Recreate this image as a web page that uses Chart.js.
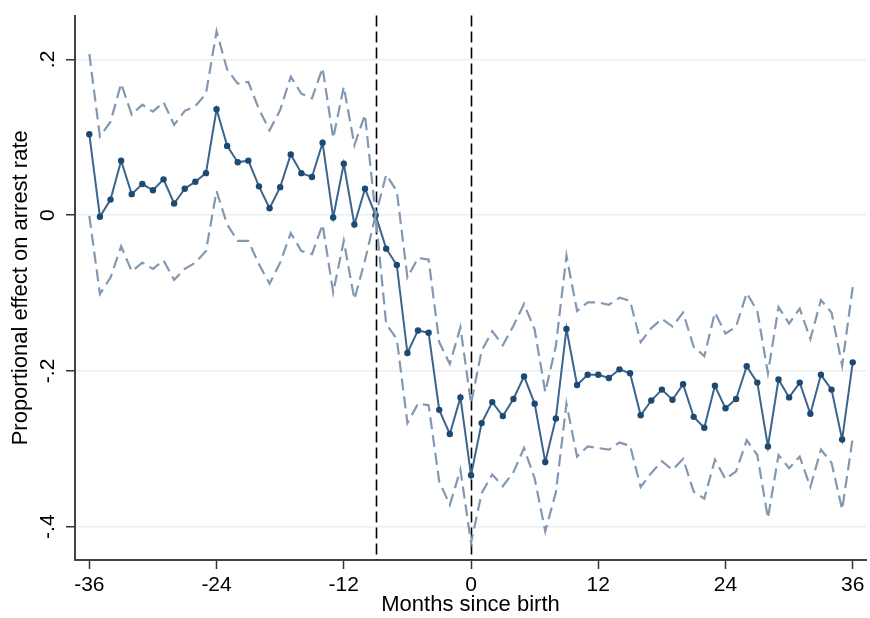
<!DOCTYPE html>
<html lang="en">
<head>
  <meta charset="UTF-8">
  <title>Proportional effect on arrest rate</title>
  <script src="https://cdn.jsdelivr.net/npm/chart.js"></script>
  <style>
    html, body { margin: 0; padding: 0; background: #fff; }
    #wrap { width: 870px; height: 618px; }
  </style>
</head>
<body>
<div id="wrap"><canvas id="c" width="870" height="618"></canvas></div>
<script>
const months = [-36,-35,-34,-33,-32,-31,-30,-29,-28,-27,-26,-25,-24,-23,-22,-21,-20,-19,-18,-17,-16,-15,-14,-13,
  -12,-11,-10,-9,-8,-7,-6,-5,-4,-3,-2,-1,0,1,2,3,4,5,6,7,8,9,10,11,
  12,13,14,15,16,17,18,19,20,21,22,23,24,25,26,27,28,29,30,31,32,33,34,35,36];

const estimate = [0.104,-0.002,0.020,0.070,0.027,0.040,0.032,0.046,0.015,0.034,0.043,0.054,
  0.136,0.089,0.068,0.070,0.037,0.009,0.036,0.078,0.054,0.049,0.093,-0.003,
  0.066,-0.012,0.034,0,-0.043,-0.064,-0.177,-0.148,-0.151,-0.250,-0.281,-0.234,
  -0.334,-0.267,-0.240,-0.258,-0.236,-0.207,-0.242,-0.317,-0.261,-0.146,-0.218,-0.205,
  -0.205,-0.209,-0.198,-0.203,-0.257,-0.238,-0.224,-0.237,-0.217,-0.259,-0.273,-0.219,
  -0.248,-0.236,-0.194,-0.215,-0.297,-0.211,-0.234,-0.215,-0.255,-0.205,-0.224,-0.288,-0.189];

const upper = [0.207,0.101,0.120,0.169,0.129,0.142,0.133,0.145,0.116,0.134,0.140,0.156,
  0.236,0.187,0.169,0.171,0.136,0.109,0.135,0.178,0.156,0.150,0.189,0.099,
  0.165,0.090,0.129,0,0.052,0.031,-0.080,-0.055,-0.057,-0.163,-0.191,-0.144,
  -0.242,-0.174,-0.149,-0.167,-0.142,-0.114,-0.147,-0.227,-0.168,-0.052,-0.123,-0.112,
  -0.112,-0.115,-0.106,-0.110,-0.163,-0.145,-0.133,-0.143,-0.125,-0.169,-0.181,-0.125,
  -0.152,-0.143,-0.100,-0.123,-0.203,-0.118,-0.139,-0.120,-0.159,-0.109,-0.125,-0.193,-0.092];

const lower = [-0.001,-0.101,-0.080,-0.040,-0.072,-0.061,-0.069,-0.058,-0.083,-0.069,-0.061,-0.046,
  0.031,-0.012,-0.033,-0.033,-0.063,-0.088,-0.061,-0.023,-0.046,-0.050,-0.012,-0.099,
  -0.033,-0.108,-0.058,0,-0.140,-0.159,-0.267,-0.242,-0.244,-0.342,-0.372,-0.327,
  -0.421,-0.357,-0.333,-0.348,-0.330,-0.299,-0.338,-0.406,-0.356,-0.242,-0.310,-0.297,
  -0.299,-0.301,-0.292,-0.296,-0.349,-0.331,-0.316,-0.327,-0.313,-0.355,-0.364,-0.314,
  -0.339,-0.329,-0.289,-0.308,-0.389,-0.308,-0.325,-0.310,-0.349,-0.301,-0.318,-0.378,-0.286];

const xTicks = [-36, -24, -12, 0, 12, 24, 36];
const yTicks = [-0.4, -0.2, 0, 0.2];
const yTickLabels = ['-.4', '-.2', '0', '.2'];
const refLines = [-9, 0];

const pts = arr => arr.map((v, i) => ({ x: months[i], y: v }));

// reference lines behind the series, y labels drawn rotated like Stata
const extras = {
  id: 'extras',
  beforeDatasetsDraw(chart) {
    const { ctx, chartArea, scales } = chart;
    ctx.save();
    ctx.strokeStyle = '#000';
    ctx.lineWidth = 1.6;
    ctx.setLineDash([11, 5]);
    refLines.forEach(m => {
      const px = Math.round(scales.x.getPixelForValue(m)) + 0.5;
      ctx.beginPath();
      ctx.moveTo(px, chartArea.top);
      ctx.lineTo(px, chartArea.bottom);
      ctx.stroke();
    });
    ctx.restore();
  },
  afterDraw(chart) {
    const { ctx, scales } = chart;
    ctx.save();
    ctx.fillStyle = '#000';
    ctx.font = '21px "Liberation Sans", Arial, sans-serif';
    ctx.textAlign = 'center';
    ctx.textBaseline = 'alphabetic';
    yTicks.forEach((v, i) => {
      ctx.save();
      ctx.translate(54, scales.y.getPixelForValue(v));
      ctx.rotate(-Math.PI / 2);
      ctx.fillText(yTickLabels[i], 0, 0);
      ctx.restore();
    });
    ctx.restore();
  }
};

const ciStyle = {
  borderColor: '#8298b2',
  borderWidth: 2.2,
  borderDash: [12, 6],
  pointRadius: 0,
  fill: false,
  tension: 0
};

new Chart(document.getElementById('c'), {
  type: 'line',
  data: {
    datasets: [
      Object.assign({ label: 'Upper', data: pts(upper) }, ciStyle),
      Object.assign({ label: 'Lower', data: pts(lower) }, ciStyle),
      {
        label: 'Estimate',
        data: pts(estimate),
        borderColor: '#3b658c',
        borderWidth: 2,
        pointRadius: 3.2,
        pointBackgroundColor: '#1d4a73',
        pointBorderWidth: 0,
        fill: false,
        tension: 0
      }
    ]
  },
  options: {
    responsive: false,
    animation: false,
    layout: { padding: { top: 13, right: 2, bottom: 0, left: 0 } },
    plugins: { legend: { display: false }, tooltip: { enabled: false } },
    scales: {
      x: {
        type: 'linear',
        min: -37.35,
        max: 37.25,
        afterBuildTicks: s => { s.ticks = xTicks.map(v => ({ value: v })); },
        afterFit: s => { s.height = 58; },
        ticks: {
          autoSkip: false, maxRotation: 0, padding: 4, color: '#000',
          font: { family: '"Liberation Sans", Arial, sans-serif', size: 21 },
          callback: v => String(v)
        },
        grid: { drawOnChartArea: false, tickLength: 9, tickColor: '#333', tickWidth: 1.5 },
        border: { color: '#444', width: 2 },
        title: {
          display: true, text: 'Months since birth', color: '#000',
          font: { family: '"Liberation Sans", Arial, sans-serif', size: 22 },
          padding: { top: 0, bottom: 0 }
        }
      },
      y: {
        min: -0.4428,
        max: 0.2563,
        afterBuildTicks: s => { s.ticks = yTicks.map(v => ({ value: v })); },
        afterFit: s => { s.width = 75; },
        ticks: { color: 'rgba(0,0,0,0)', font: { size: 21 } },
        grid: { color: '#e8eff2', lineWidth: 1.5, tickLength: 9, tickColor: '#333', tickWidth: 1.5 },
        border: { color: '#444', width: 2 },
        title: {
          display: true, text: 'Proportional effect on arrest rate', color: '#000',
          font: { family: '"Liberation Sans", Arial, sans-serif', size: 22 },
          padding: { top: 8, bottom: 0 }
        }
      }
    }
  },
  plugins: [extras]
});
</script>
</body>
</html>
